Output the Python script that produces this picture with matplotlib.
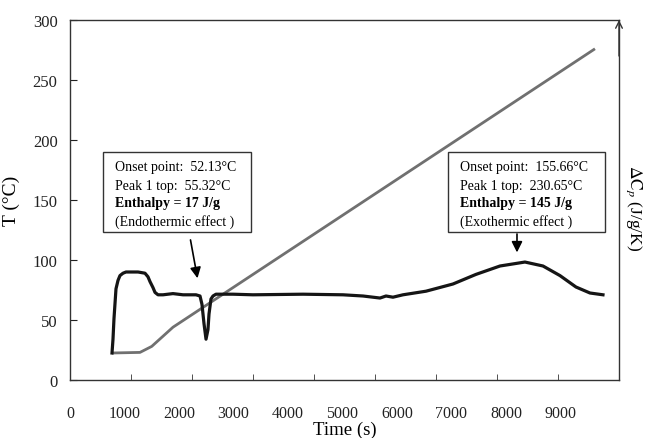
import matplotlib
matplotlib.use("Agg")
import matplotlib.pyplot as plt
from matplotlib.patches import Rectangle
import numpy as np

plt.rcParams['font.family'] = ['Liberation Serif', 'DejaVu Serif']
plt.rcParams['mathtext.fontset'] = 'stix'

# heat flow curve (DSC)
dsc_t = [771, 789, 807, 844, 881, 917, 973, 1028, 1248, 1376, 1431, 1468, 1523, 1560, 1615,
         1707, 1890, 2074, 2312, 2386, 2422, 2459, 2496, 2532, 2551, 2587, 2624, 2679,
         2991, 3358, 4276, 5010, 5377, 5560, 5689, 5799, 5927, 6111, 6533, 7028, 7450,
         7891, 8349, 8680, 8992, 9285, 9542, 9781]
dsc_T = [22.5, 34, 51, 76, 83, 87, 89, 90, 90, 89, 86, 82, 77, 73, 71,
         71, 72, 71, 71, 70, 63, 47, 34, 42, 55, 67.5, 70, 71.5,
         71.5, 71, 71.5, 71, 70, 69, 68.3, 70, 69, 71, 74, 80, 88,
         95, 98.3, 95, 87, 77.5, 72.5, 71]

# temperature program
ramp_t = [771, 1284, 1500, 1890, 9634]
ramp_T = [22.5, 23, 28, 44, 276]

xticks = [0, 1000, 2000, 3000, 4000, 5000, 6000, 7000, 8000, 9000]
yticks = [0, 50, 100, 150, 200, 250, 300]

box1 = ["Onset point:  52.13°C", "Peak 1 top:  55.32°C", "Enthalpy = 17 J/g", "(Endothermic effect )"]
box2 = ["Onset point:  155.66°C", "Peak 1 top:  230.65°C", "Enthalpy = 145 J/g", "(Exothermic effect )"]

fig = plt.figure(figsize=(6.47, 4.39), dpi=100)
ax = fig.add_axes([70/647, 58/439, 549/647, 360/439])

ax.plot(ramp_t, ramp_T, color="#707070", lw=2.0, solid_capstyle="butt")
ax.plot(dsc_t, dsc_T, color="#151515", lw=2.3, solid_joinstyle="round")

ax.set_xlim(0, 10075)
ax.set_ylim(0, 300)

ax.set_xticks(xticks)
ax.set_xticks(np.linspace(0, 10075, 10)[1:-1], minor=True)
ax.tick_params(axis="x", which="major", length=0, pad=18, labelsize=11.5, colors="#222")
ax.tick_params(axis="x", which="minor", direction="in", length=4, color="#333")
ax.set_yticks(yticks)
ax.tick_params(axis="y", direction="in", length=5, pad=9, labelsize=12, colors="#222")

for s in ax.spines.values():
    s.set_color("#333")
    s.set_linewidth(1.0)

# arrow head on the right axis
ax.annotate("", xy=(1, 1.0), xytext=(1, 0.9), xycoords="axes fraction",
            arrowprops=dict(arrowstyle="->", color="#333", lw=1.0,
                            mutation_scale=12, shrinkA=0, shrinkB=0))

ax.set_xlabel("Time (s)", fontsize=13.5)
ax.xaxis.set_label_coords(0.5, -0.112)
ax.set_ylabel("T (°C)", fontsize=14)
ax.yaxis.set_label_coords(-0.091, 0.5)
ax.text(1.027, 0.48, r"$\Delta\mathrm{C}_p$ (J/g/K)", transform=ax.transAxes,
        rotation=-90, ha="center", va="center", fontsize=12.5)

# annotation boxes
ax.add_patch(Rectangle((606, 123.3), 3321 - 606, 190 - 123.3, fill=False, ec="#333", lw=1.0))
ax.add_patch(Rectangle((6936, 123.3), 9817 - 6936, 190 - 123.3, fill=False, ec="#333", lw=1.0))
ys = [177.5, 162, 147.5, 132.5]
for i in range(4):
    w = "bold" if i == 2 else "normal"
    ax.text(826, ys[i], box1[i], fontsize=10, fontweight=w, va="center", ha="left")
    ax.text(7157, ys[i], box2[i], fontsize=10, fontweight=w, va="center", ha="left")

ax.annotate("", xy=(2349, 82.5), xytext=(2202, 119),
            arrowprops=dict(arrowstyle="-|>", color="black", lw=1.2, mutation_scale=16))
ax.annotate("", xy=(8203, 104), xytext=(8203, 124),
            arrowprops=dict(arrowstyle="-|>", color="black", lw=1.2, mutation_scale=16))

fig.savefig("out.png", dpi=100)
